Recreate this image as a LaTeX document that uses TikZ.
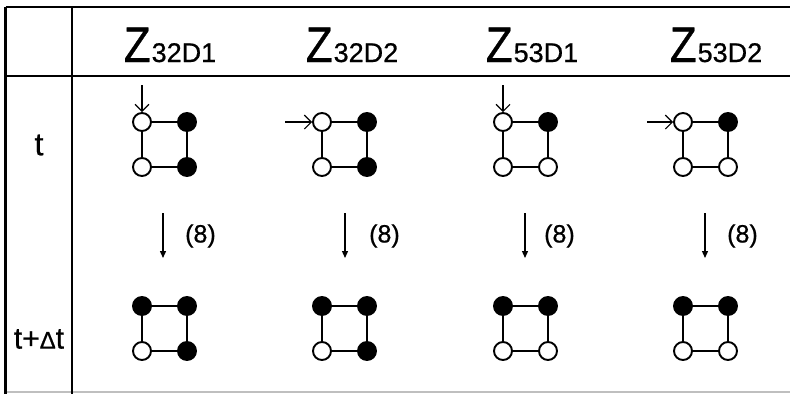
\documentclass[tikz,border=0pt]{standalone}
\usepackage{fontspec}
\setmainfont{Liberation Sans}[FakeBold=0.7]
\usetikzlibrary{arrows.meta}

\tikzset{
  site/.style={circle, draw, line width=1.9pt, minimum size=18pt, inner sep=0pt},
  up/.style={site, fill=white},
  dn/.style={site, fill=black},
  bond/.style={line width=1.7pt},
  rule/.style={line width=1.8pt},
  faint/.style={line width=1.5pt, black!25},
  probe/.style={line width=1.1pt, -{Straight Barb[length=7pt, width=14pt, line width=1.1pt]}},
  step arrow/.style={line width=1.3pt, -{Triangle[length=7pt, width=6pt]}},
  head/.style={anchor=base, inner sep=0pt},
  rowlabel/.style={inner sep=0pt},
  eqref/.style={anchor=west, inner sep=0pt, font=\fontsize{25}{27}\selectfont},
}

% plaquette: #1 name prefix, #2 top-left x, #3 top y, #4..#7 styles TL TR BL BR
\newcommand{\plaq}[7]{%
  \node[#4] (#1a) at (#2, #3) {};
  \node[#5] (#1b) at (#2+45, #3) {};
  \node[#6] (#1c) at (#2, #3+45) {};
  \node[#7] (#1d) at (#2+45, #3+45) {};
  \draw[bond] (#1a) -- (#1b) (#1b) -- (#1d) (#1d) -- (#1c) (#1c) -- (#1a);
}
\newcommand{\hdr}[3]{%
  \node[head] (#1) at (#2, 62) {{\fontsize{50}{51}\selectfont\scalebox{0.88}[1]{Z}}\hspace{1pt}{\fontsize{27}{28}\selectfont #3}};
}

\begin{document}
\begin{tikzpicture}[x=1pt, y=-1pt]
  \useasboundingbox (0,0) rectangle (790,394);

  % table frame
  \coordinate (tl) at (5.5,7);
  \coordinate (tr) at (790,7);
  \coordinate (hl) at (5.5,76);
  \coordinate (hr) at (790,76);
  \coordinate (bl) at (5.5,394);
  \coordinate (sep top) at (72,7);
  \coordinate (sep bot) at (72,394);
  \coordinate (base l) at (5.5,392);
  \coordinate (base r) at (790,392);
  \draw[faint] (base l) -- (base r);
  \draw[rule] (tl) -- (tr);
  \draw[rule] (hl) -- (hr);
  \draw[line width=2.2pt] (tl) -- (bl);
  \draw[rule] (sep top) -- (sep bot);

  % column headings
  \hdr{h1}{170}{32D1}
  \hdr{h2}{352}{32D2}
  \hdr{h3}{532}{53D1}
  \hdr{h4}{716}{53D2}

  % row labels
  \node[rowlabel, font=\fontsize{32}{34}\selectfont] (rt) at (39,145) {t};
  \node[rowlabel, font=\fontsize{30}{32}\selectfont] (rdt) at (39,339) {t+{\fontsize{24}{26}\selectfont Δ}t};

  % configurations at time t
  \plaq{p1}{142}{122}{up}{dn}{up}{dn}
  \plaq{p2}{322}{122}{up}{dn}{up}{dn}
  \plaq{p3}{503}{122}{up}{dn}{up}{up}
  \plaq{p4}{683}{122}{up}{dn}{up}{up}

  % configurations at time t + Delta t
  \plaq{q1}{142}{306}{dn}{dn}{up}{dn}
  \plaq{q2}{322}{306}{dn}{dn}{up}{dn}
  \plaq{q3}{503}{306}{dn}{dn}{up}{up}
  \plaq{q4}{683}{306}{dn}{dn}{up}{up}

  % incoming probes
  \coordinate (s1) at (142,85);
  \coordinate (s2) at (285,122);
  \coordinate (s3) at (503,85);
  \coordinate (s4) at (647,122);
  \draw[probe] (s1) -- (p1a);
  \draw[probe] (s2) -- (p2a);
  \draw[probe] (s3) -- (p3a);
  \draw[probe] (s4) -- (p4a);

  % transitions by rule (8)
  \foreach \i/\x/\lx in {1/163/185, 2/345/369, 3/525/544, 4/705/727} {
    \coordinate (u\i) at (\x,213);
    \coordinate (v\i) at (\x,258);
    \draw[step arrow] (u\i) -- (v\i);
    \node[eqref] (e\i) at (\lx,236) {(8)};
  }
\end{tikzpicture}
\end{document}
